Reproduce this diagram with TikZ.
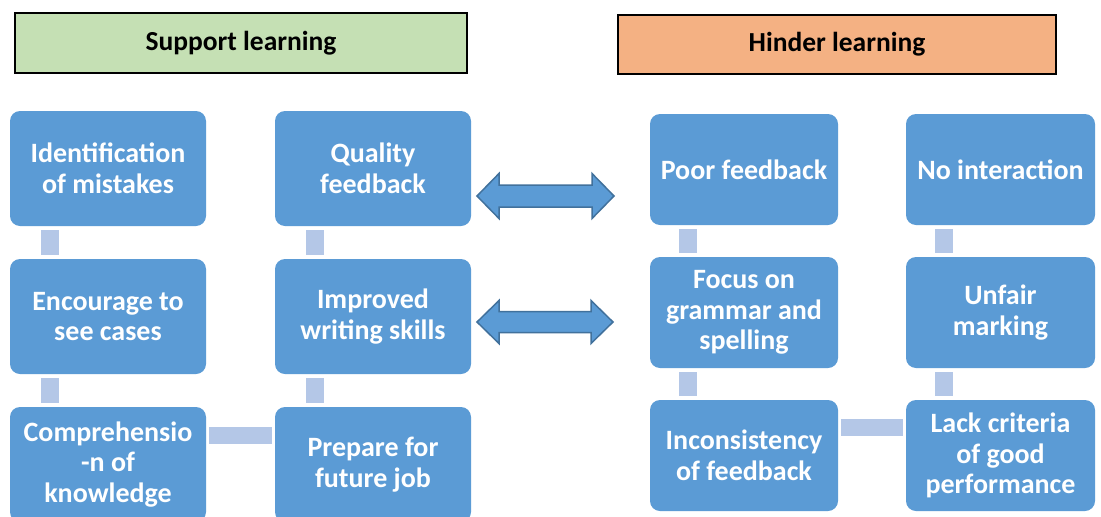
\documentclass[tikz,border=0pt]{standalone}
\usepackage{fontspec}
\setmainfont{Carlito}
\begin{document}
\begin{tikzpicture}[x=1pt,y=-1pt,
  box/.style={fill=boxblue, rounded corners=10pt, text=white, font=\fontsize{28}{30.5}\selectfont\bfseries, align=center, inner sep=0pt},
  lbox/.style={box, minimum width=196pt, minimum height=115pt},
  rbox/.style={box, minimum width=189pt, minimum height=111pt},
  conn/.style={draw=connblue, line width=18pt, shorten <=4pt, shorten >=4pt},
  hconn/.style={draw=connblue, line width=17pt, shorten <=3pt, shorten >=3pt},
  head/.style={draw=black, line width=1.5pt, font=\fontsize{27.5}{30}\selectfont\bfseries, inner sep=0pt},
  dblarrow/.style={fill=boxblue, draw=arrowborder, line width=1.5pt, line join=miter}
]
\definecolor{boxblue}{HTML}{5B9BD5}
\definecolor{connblue}{HTML}{B4C7E7}
\definecolor{arrowborder}{HTML}{41719C}
\definecolor{headgreen}{HTML}{C5E0B4}
\definecolor{headorange}{HTML}{F4B183}
\useasboundingbox (0,0) rectangle (1101,517);
\clip (0,0) rectangle (1101,517);
\fill[white] (0,0) rectangle (1101,517);
% headers
\node[head, fill=headgreen, minimum width=452pt, minimum height=60pt] (sup) at (241,43) {Support learning};
\node[head, fill=headorange, minimum width=438pt, minimum height=59pt] (hin) at (837,44.5) {Hinder learning};
% left boxes
\node[lbox] (a1) at (108,168.5) {Identification\\of mistakes};
\node[lbox] (a2) at (108,316.5) {Encourage to\\see cases};
\node[lbox] (a3) at (108,464.5) {Comprehensio\\-n of\\knowledge};
\node[lbox] (b1) at (373,168.5) {Quality\\feedback};
\node[lbox] (b2) at (373,316.5) {Improved\\writing skills};
\node[lbox] (b3) at (373,464.5) {Prepare for\\future job};
% right boxes
\node[rbox, minimum width=188pt] (c1) at (744,169.5) {Poor feedback};
\node[rbox, minimum width=188pt] (c2) at (744,312.5) {Focus on\\grammar and\\spelling};
\node[rbox, minimum width=188pt] (c3) at (744,455.5) {Inconsistency\\of feedback};
\node[rbox] (d1) at (1000.5,169.5) {No interaction};
\node[rbox] (d2) at (1000.5,312.5) {Unfair\\marking};
\node[rbox] (d3) at (1000.5,455.5) {Lack criteria\\of good\\performance};
% connectors
\draw[conn] ([xshift=40pt]a1.south west) -- ([xshift=40pt]a2.north west);
\draw[conn] ([xshift=40pt]a2.south west) -- ([xshift=40pt]a3.north west);
\draw[conn] ([xshift=40pt]b1.south west) -- ([xshift=40pt]b2.north west);
\draw[conn] ([xshift=40pt]b2.south west) -- ([xshift=40pt]b3.north west);
\draw[hconn] ([yshift=-29pt]a3.north east) -- ([yshift=-29pt]b3.north west);
\draw[conn] ([xshift=38pt]c1.south west) -- ([xshift=38pt]c2.north west);
\draw[conn] ([xshift=38pt]c2.south west) -- ([xshift=38pt]c3.north west);
\draw[conn] ([xshift=38pt]d1.south west) -- ([xshift=38pt]d2.north west);
\draw[conn] ([xshift=38pt]d2.south west) -- ([xshift=38pt]d3.north west);
\draw[hconn] ([yshift=-27.5pt]c3.north east) -- ([yshift=-27.5pt]d3.north west);
% double arrows
\draw[dblarrow] (477,196) -- (499,173.5) -- (499,185) -- (592,185) -- (592,173.5) -- (614,196) -- (592,218.5) -- (592,207) -- (499,207) -- (499,218.5) -- cycle;
\draw[dblarrow] (477,322) -- (499,300.5) -- (499,311.5) -- (591,311.5) -- (591,300.5) -- (613,322) -- (591,343.5) -- (591,332.5) -- (499,332.5) -- (499,343.5) -- cycle;
\end{tikzpicture}
\end{document}
